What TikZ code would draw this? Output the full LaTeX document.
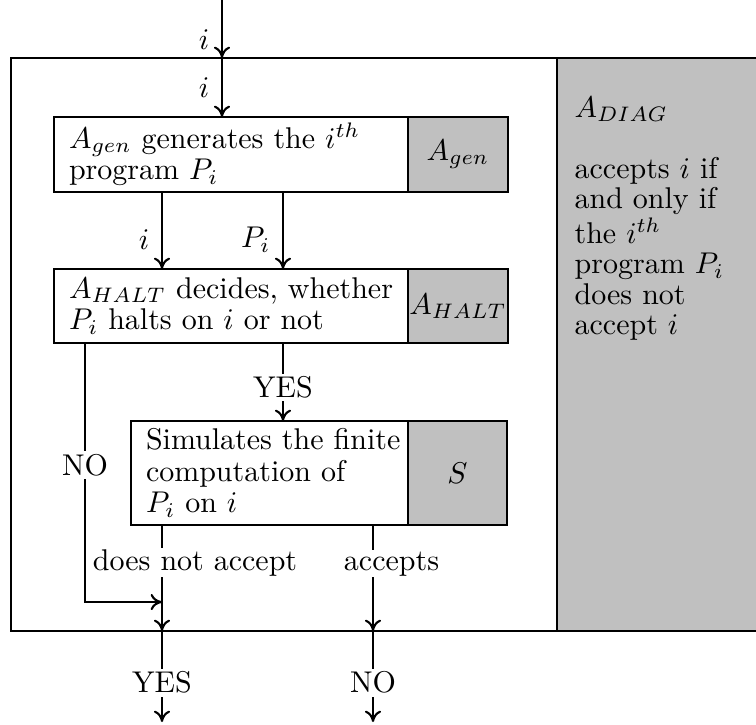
\documentclass[tikz,border=0pt]{standalone}
\usetikzlibrary{arrows.meta}
\definecolor{panelgray}{RGB}{192,192,192}
\newcommand\boxfont{\fontsize{10pt}{10.5pt}\selectfont}
\newcommand\panelfont{\fontsize{10pt}{10.1pt}\selectfont}
\newcommand\boxline[1]{\mbox{#1}}
\begin{document}
\begin{tikzpicture}[x=0.33333pt,y=-0.33333pt,
  ln/.style={line width=0.5pt},
  framebox/.style={draw, ln, fill=white, anchor=north west, inner sep=0pt, outer sep=0pt},
  panel/.style={draw, ln, fill=panelgray, anchor=north west, inner sep=0pt, outer sep=0pt},
  wbox/.style={draw, ln, fill=white, anchor=north west, align=left,
    inner xsep=5pt, inner ysep=0pt, outer sep=0pt, font=\boxfont},
  gbox/.style={draw, ln, fill=panelgray, anchor=north west, inner sep=0pt, outer sep=0pt, font=\boxfont},
  lbl/.style={fill=white, inner sep=1pt, font=\boxfont},
  side/.style={inner sep=4pt, font=\boxfont},
  arr/.style={ln, -{To[length=3.8pt, width=5.4pt, line width=0.7pt]}}]
\useasboundingbox (0,0) rectangle (756,724);

% outer frame and A_DIAG panel
\node[framebox, minimum width=182pt, minimum height=191pt] (frame) at (11,58) {};
\node[panel, minimum width=72pt, minimum height=191pt] (diag) at (frame.north east) {};
\node[anchor=north west, align=left, inner sep=0pt, font=\panelfont] (diagtxt) at (574,96)
  {$A_{DIAG}$\\[10.4pt]
   accepts $i$ if\\
   and only if\\
   the $i^{th}$\\
   program $P_i$\\
   does not\\
   accept $i$};

% boxes
\node[wbox, text width=108pt, minimum height=25pt] (b1) at (54,117)
  {\boxline{$A_{gen}$ generates the $i^{th}$}\\ \boxline{program $P_i$}};
\node[gbox, minimum width=33.33pt, minimum height=25pt] (g1) at (b1.north east) {$A_{gen}$};

\node[wbox, text width=108pt, minimum height=24.67pt] (b2) at (54,269)
  {\boxline{$A_{HALT}$ decides, whether}\\ \boxline{$P_i$ halts on $i$ or not}};
\node[gbox, minimum width=33.33pt, minimum height=24.67pt] (g2) at (b2.north east) {$A_{HALT}$};

\node[wbox, text width=82.33pt, minimum height=34.67pt] (b3) at (131,421)
  {\boxline{Simulates the finite}\\ \boxline{computation of}\\ \boxline{$P_i$ on $i$}};
\node[gbox, minimum width=33pt, minimum height=34.67pt] (g3) at (b3.north east) {$S$};

% helper coordinates
\coordinate (top) at (222,0);
\coordinate (cx1) at (162,0);
\coordinate (cx2) at (283,0);
\coordinate (cx3) at (373,0);
\coordinate (cno) at (85,602);
\coordinate (bot) at (0,722);

% connectors
\draw[arr] (top) -- node[side, left, pos=0.69] {$i$} (top |- frame.north);
\draw[arr] (top |- frame.north) -- node[side, left, pos=0.5] {$i$} (top |- b1.north);

\draw[arr] (cx1 |- b1.south) -- node[side, left, pos=0.62] {$i$} (cx1 |- b2.north);
\draw[arr] (cx2 |- b1.south) -- node[side, left, pos=0.62] {$P_i$} (cx2 |- b2.north);

\draw[arr] (cx2 |- b2.south) -- node[lbl, pos=0.57] {YES} (cx2 |- b3.north);

\draw[arr] (cno |- b2.south) -- node[lbl, pos=0.47] {NO} (cno) -- (cno -| cx1);

\draw[arr] (cx1 |- b3.south) -- (cx1 |- frame.south);
\draw[arr] (cx3 |- b3.south) -- (cx3 |- frame.south);
\node[lbl, anchor=base, inner sep=0.5pt] (dna) at (195,570) {does not accept};
\node[lbl, anchor=base, inner sep=0.5pt] (acc) at (391.5,570) {accepts};

\draw[arr] (cx1 |- frame.south) -- node[lbl, pos=0.567] {YES} (cx1 |- bot);
\draw[arr] (cx3 |- frame.south) -- node[lbl, pos=0.567] {NO} (cx3 |- bot);
\end{tikzpicture}
\end{document}
